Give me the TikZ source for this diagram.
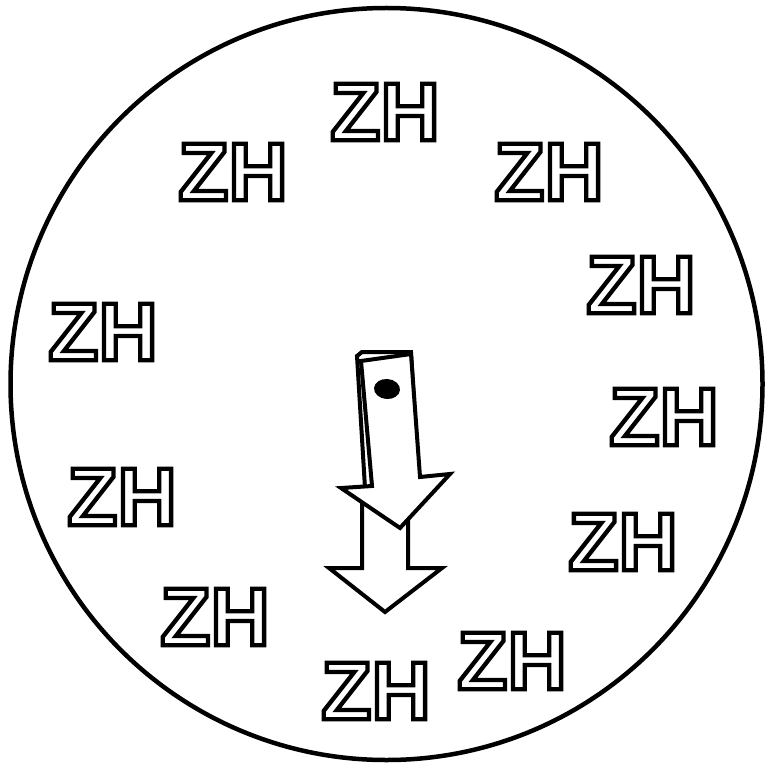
\documentclass[tikz,border=0pt]{standalone}
\usepackage{fontspec}
\setmainfont{Liberation Sans}
\usepackage{tikz}
\newcommand{\hollow}[1]{\special{pdf:literal 1 Tr 4.3 w}#1\special{pdf:literal 0 Tr}}
\tikzset{
  zhlabel/.style={inner sep=0pt,font=\fontsize{82}{82}\bfseries\selectfont},
  dial/.style={draw=black,line width=4.5pt},
  pointer/.style={draw=black,fill=white,line width=4pt,line join=miter},
}

\begin{document}
\begin{tikzpicture}[x=1pt,y=-1pt]
  \useasboundingbox (0,0) rectangle (765,767);
  \draw[dial] (386.5,384) circle (376);
  \node[zhlabel] (zh1) at (385,112) {\hollow{ZH}};
  \node[zhlabel] (zh2) at (233,172) {\hollow{ZH}};
  \node[zhlabel] (zh3) at (549,172) {\hollow{ZH}};
  \node[zhlabel] (zh4) at (641,285) {\hollow{ZH}};
  \node[zhlabel] (zh5) at (103,332) {\hollow{ZH}};
  \node[zhlabel] (zh6) at (664,417) {\hollow{ZH}};
  \node[zhlabel] (zh7) at (122,497) {\hollow{ZH}};
  \node[zhlabel] (zh8) at (623,542) {\hollow{ZH}};
  \node[zhlabel] (zh9) at (215,617) {\hollow{ZH}};
  \node[zhlabel] (zh10) at (512,661) {\hollow{ZH}};
  \node[zhlabel] (zh11) at (376,691) {\hollow{ZH}};
  \draw[pointer] (362,495) -- (408,495) -- (408,568) -- (442,568) -- (385,612)
    -- (329,568) -- (362,568) -- cycle;
  \draw[pointer] (357,356) -- (362,352) -- (411,352) -- (418,472) -- (365,488) -- cycle;
  \draw[pointer] (361,361) -- (411,354) -- (420,477) -- (450,474) -- (400,528)
    -- (341,488) -- (372,486) -- cycle;
  \fill[black,rotate around={-5:(387,389)}] (387,389) ellipse (13 and 10);
\end{tikzpicture}
\end{document}
